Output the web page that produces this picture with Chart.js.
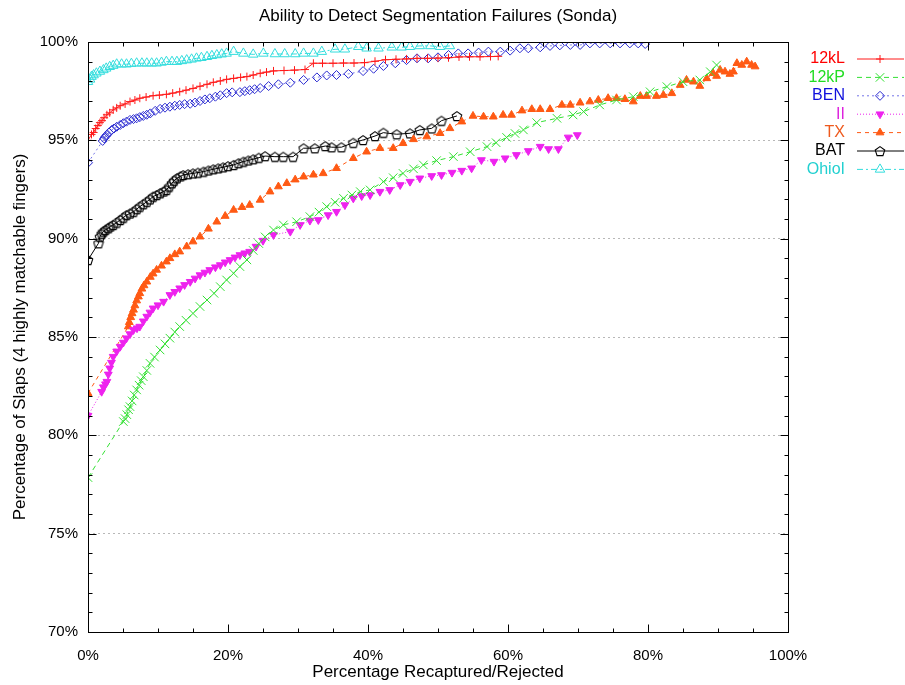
<!DOCTYPE html>
<html>
<head>
<meta charset="utf-8">
<title>Ability to Detect Segmentation Failures (Sonda)</title>
<script src="https://cdn.jsdelivr.net/npm/chart.js@4.4.1/dist/chart.umd.min.js"></script>
<style>
  body { margin: 0; background: #fff; }
  #wrap { width: 905px; height: 685px; }
</style>
</head>
<body>
<div id="wrap"><canvas id="segfail"></canvas></div>
<script>
// each point: [percentage recaptured/rejected, percentage of slaps]
var seriesNames = ["12kL", "12kP", "BEN", "II", "TX", "BAT", "OhioI"];

var kL = [[0,95.0],[0.5,95.3],[0.8,95.4],[1.1,95.6],[1.4,95.75],[1.7,95.9],[2.0,96.0],[2.3,96.15],[2.7,96.3],[3.1,96.4],
  [3.6,96.55],[4.1,96.65],[4.6,96.76],[5.3,96.85],[6.0,96.97],[6.7,97.05],[7.4,97.14],[8.3,97.2],[9.3,97.27],[10.2,97.3],
  [11.2,97.34],[12.1,97.4],[13.1,97.47],[14.0,97.55],[15.0,97.64],[16.0,97.75],[17.0,97.85],[17.9,97.95],[18.9,98.02],[19.8,98.1],
  [20.8,98.15],[21.8,98.2],[22.7,98.24],[23.6,98.32],[24.6,98.41],[25.5,98.47],[26.5,98.53],[28.0,98.55],[29.5,98.57],[31.0,98.6],
  [32.2,98.92],[33.5,98.92],[35.0,98.92],[36.5,98.93],[38.0,98.93],[39.5,98.95],[41.0,99.02],[42.5,99.1],[44.0,99.12],[45.5,99.14],
  [47.0,99.17],[48.5,99.17],[50.0,99.18],[51.5,99.2],[53.0,99.24],[54.5,99.25],[56.0,99.25],[57.5,99.26],[58.6,99.27]];

var kP = [[0,77.85],[5.05,80.7],[5.3,80.85],[5.55,81.05],[5.8,81.3],[6.0,81.46],[6.3,81.75],[6.6,82.05],[6.95,82.31],[7.3,82.55],
  [7.6,82.78],[7.9,82.98],[8.4,83.3],[8.86,83.66],[9.5,83.98],[10.3,84.34],[11.0,84.65],[11.7,84.94],[12.4,85.25],[13.1,85.53],
  [14.0,85.85],[15.0,86.2],[16.0,86.55],[17.0,86.88],[18.0,87.22],[18.9,87.56],[19.8,87.9],[20.8,88.24],[21.7,88.58],[22.7,88.92],
  [23.6,89.4],[24.4,89.75],[25.3,90.09],[26.5,90.44],[27.9,90.7],[29.8,90.86],[31.7,91.12],[33.0,91.35],[34.1,91.63],[35.3,91.85],
  [36.5,92.05],[37.7,92.22],[38.9,92.39],[40.3,92.48],[42.2,92.9],[43.6,93.1],[45.0,93.32],[46.5,93.55],[47.9,93.75],[49.8,93.97],
  [52.2,94.17],[54.6,94.42],[57.0,94.68],[58.3,94.88],[59.8,95.15],[61.0,95.35],[62.2,95.53],[64.1,95.9],[67.0,96.12],[69.3,96.29],
  [70.8,96.46],[73.1,96.8],[75.5,97.05],[77.9,97.22],[80.3,97.47],[82.7,97.73],[85.0,97.98],[87.4,98.07],[88.9,98.49],[89.8,98.83]];

var ben = [[0,93.86],[2.1,94.97],[2.3,95.1],[2.5,95.2],[2.7,95.27],[3.0,95.4],[3.4,95.53],[3.7,95.6],[4.1,95.69],[4.6,95.78],
  [5.05,95.87],[5.5,95.95],[6.0,96.04],[6.5,96.08],[6.95,96.12],[7.4,96.18],[7.9,96.24],[8.4,96.3],[8.9,96.37],[9.6,96.5],
  [10.3,96.6],[11.0,96.66],[11.7,96.71],[12.4,96.76],[13.1,96.8],[13.8,96.84],[14.6,96.86],[15.3,96.92],[16.0,97.0],[16.7,97.08],
  [17.4,97.14],[18.2,97.22],[18.9,97.29],[19.8,97.4],[20.6,97.44],[21.7,97.45],[22.4,97.5],[23.1,97.55],[23.8,97.6],[24.6,97.66],
  [25.8,97.76],[27.2,97.85],[28.9,97.93],[30.8,98.07],[32.7,98.2],[34.1,98.3],[35.5,98.32],[37.2,98.38],[39.3,98.52],[40.8,98.64],
  [42.2,98.78],[43.9,98.92],[45.5,99.08],[47.0,99.17],[48.6,99.17],[50.0,99.22],[51.5,99.34],[52.9,99.42],[54.3,99.42],[55.8,99.46],
  [57.2,99.51],[58.9,99.51],[60.3,99.56],[61.7,99.68],[62.9,99.68],[64.6,99.73],[66.0,99.8],[67.4,99.83],[68.9,99.85],[70.3,99.85],
  [71.7,99.93],[73.1,99.93],[74.6,99.93],[76.0,99.93],[77.4,99.93],[78.6,99.93],[79.6,99.9]];

var ii = [[0,81.0],[1.95,82.22],[2.2,82.45],[2.5,82.6],[2.7,82.73],[2.9,83.1],[3.1,83.41],[3.35,83.7],[3.6,84.0],[4.1,84.27],
  [4.6,84.51],[5.05,84.72],[5.5,84.94],[6.0,85.15],[6.5,85.36],[7.0,85.45],[7.4,85.53],[7.9,85.8],[8.4,86.04],[8.85,86.25],
  [9.3,86.46],[10.0,86.62],[10.8,86.8],[11.7,87.14],[12.4,87.3],[13.1,87.48],[13.8,87.65],[14.6,87.81],[15.3,87.98],[16.0,88.15],
  [16.7,88.28],[17.4,88.41],[18.2,88.55],[18.9,88.66],[19.6,88.8],[20.3,88.92],[21.0,89.05],[21.7,89.17],[22.4,89.26],[23.1,89.34],
  [24.0,89.6],[25.0,89.9],[26.5,90.19],[28.9,90.36],[30.3,90.7],[31.7,90.92],[32.9,90.95],[34.3,91.2],[35.5,91.37],[36.7,91.71],
  [37.9,92.05],[39.1,92.17],[40.3,92.22],[41.7,92.39],[43.1,92.48],[44.6,92.73],[46.0,92.9],[47.4,93.07],[49.1,93.19],[50.5,93.24],
  [52.0,93.36],[53.4,93.46],[54.8,93.58],[56.2,94.0],[58.0,93.92],[59.6,94.09],[61.2,94.26],[62.9,94.46],[64.6,94.68],[65.8,94.56],
  [67.2,94.56],[68.6,95.15],[69.9,95.27]];

var tx = [[0,82.14],[5.76,85.53],[5.9,85.75],[6.1,86.0],[6.3,86.2],[6.5,86.38],[6.7,86.6],[6.95,86.85],[7.2,87.05],[7.4,87.22],
  [7.7,87.45],[8.0,87.62],[8.4,87.81],[8.9,88.05],[9.3,88.22],[9.8,88.41],[10.5,88.62],[11.2,88.83],[11.7,89.0],[12.4,89.2],
  [13.1,89.34],[14.1,89.6],[15.0,89.85],[16.0,90.1],[17.2,90.5],[18.4,90.86],[19.6,91.15],[20.8,91.46],[22.0,91.6],[23.1,91.71],
  [24.6,91.97],[26.0,92.39],[27.2,92.65],[28.4,92.82],[29.6,93.0],[30.8,93.15],[32.2,93.25],[33.6,93.32],[35.5,93.58],[37.9,94.09],
  [39.8,94.42],[41.7,94.6],[43.6,94.6],[45.0,94.85],[46.5,95.05],[48.4,95.19],[50.3,95.36],[51.7,95.61],[53.4,95.95],[55.0,96.24],
  [56.5,96.2],[57.9,96.2],[59.3,96.29],[60.5,96.29],[62.0,96.51],[63.4,96.58],[64.6,96.58],[66.0,96.58],[67.7,96.8],[68.9,96.8],
  [70.3,96.91],[71.7,96.97],[72.9,97.05],[74.3,97.14],[75.5,97.14],[76.7,97.09],[77.9,96.97],[78.9,97.25],[79.8,97.25],[81.2,97.25],
  [82.2,97.3],[83.4,97.39],[84.6,97.81],[85.5,98.07],[86.5,97.98],[87.4,97.76],[88.4,98.15],[89.3,98.41],[89.8,98.27],[90.3,98.58],
  [91.0,98.49],[91.7,98.37],[92.2,98.49],[92.7,98.92],[93.4,98.83],[94.1,99.0],[94.8,98.83],[95.3,98.75]];

var bat = [[0,88.92],[1.5,89.77],[1.7,90.1],[1.95,90.25],[2.2,90.36],[2.5,90.45],[2.9,90.53],[3.2,90.62],[3.6,90.7],[4.1,90.82],
  [4.6,90.95],[5.05,91.07],[5.5,91.2],[6.0,91.28],[6.5,91.37],[6.95,91.5],[7.4,91.63],[7.9,91.75],[8.4,91.88],[8.85,92.0],
  [9.3,92.14],[9.8,92.22],[10.3,92.31],[10.8,92.4],[11.2,92.48],[11.6,92.65],[12.0,92.82],[12.3,92.95],[12.7,93.07],[13.2,93.17],
  [13.6,93.24],[14.3,93.28],[15.0,93.32],[15.7,93.36],[16.5,93.41],[17.2,93.47],[17.9,93.53],[18.6,93.58],[19.3,93.63],[20.0,93.69],
  [20.8,93.75],[21.5,93.84],[22.2,93.92],[22.9,93.98],[23.6,94.04],[24.4,94.12],[25.3,94.2],[26.7,94.17],[27.9,94.17],[29.3,94.17],
  [30.8,94.6],[32.4,94.6],[33.9,94.71],[34.8,94.65],[36.2,94.65],[37.9,94.88],[39.3,95.02],[41.0,95.22],[42.2,95.39],[44.1,95.31],
  [46.0,95.36],[47.4,95.53],[49.1,95.61],[50.5,96.0],[52.7,96.24]];

var ohio = [[0,97.98],[0.3,98.1],[0.5,98.24],[0.8,98.32],[1.2,98.41],[1.7,98.5],[2.2,98.58],[2.6,98.66],[3.1,98.74],[3.6,98.8],
  [4.1,98.87],[4.8,98.87],[5.5,98.87],[6.2,98.9],[6.95,98.92],[7.7,98.92],[8.4,98.92],[9.1,98.92],[9.8,98.92],[10.5,98.96],
  [11.2,99.0],[12.0,99.0],[12.7,99.0],[13.4,99.04],[14.1,99.08],[14.8,99.12],[15.5,99.17],[16.2,99.2],[17.0,99.25],[17.7,99.3],
  [18.4,99.34],[19.1,99.38],[19.8,99.42],[20.8,99.51],[22.2,99.42],[23.6,99.37],[25.05,99.42],[26.7,99.39],[28.1,99.39],[29.6,99.39],
  [30.8,99.42],[32.2,99.42],[33.4,99.51],[35.3,99.63],[36.7,99.63],[38.6,99.76],[39.8,99.68],[41.5,99.68],[43.4,99.73],[44.8,99.73],
  [46.0,99.76],[47.4,99.8],[48.9,99.8],[50.3,99.76],[51.7,99.8]];

var xTicks = [0, 20, 40, 60, 80, 100];
var yTicks = [70, 75, 80, 85, 90, 95, 100];

var FONT = "'Liberation Sans', Arial, sans-serif";
Chart.defaults.font.family = FONT;
Chart.defaults.color = "#000";

function pts(list) {
  return list.map(function(p) { return { x: p[0], y: p[1] }; });
}

// gnuplot style open pentagon for BAT
function pentagon(size, color) {
  var cv = document.createElement("canvas");
  cv.width = size; cv.height = size;
  var g = cv.getContext("2d");
  var r = size / 2 - 1;
  g.beginPath();
  for (var k = 0; k < 5; k++) {
    var ang = -Math.PI / 2 + k * 2 * Math.PI / 5;
    var px = size / 2 + r * Math.cos(ang), py = size / 2 + 0.6 + r * Math.sin(ang);
    if (k) g.lineTo(px, py); else g.moveTo(px, py);
  }
  g.closePath();
  g.strokeStyle = color; g.lineWidth = 1.1; g.stroke();
  return cv;
}

function series(label, data, color, dash, style, radius, fill, extra) {
  var ds = {
    label: label,
    data: pts(data),
    borderColor: color,
    borderWidth: 1,
    borderDash: dash,
    pointStyle: style,
    pointRadius: radius,
    pointHoverRadius: radius,
    pointBorderColor: color,
    pointBackgroundColor: fill ? color : "rgba(0,0,0,0)",
    pointBorderWidth: 1,
    tension: 0,
    fill: false
  };
  for (var k in extra) ds[k] = extra[k];
  return ds;
}

var keyColors = ["#ff0000", "#22dd22", "#1010dd", "#dd22dd", "#ee5a1e", "#000000", "#22d0d0"];

var keyBox = {
  id: "keyBox",
  afterDraw: function(chart) {
    var c = chart.ctx, a = chart.chartArea;
    chart.data.datasets.forEach(function(ds, i) {
      var y = a.top + 17 + i * 18.4;
      c.save();
      c.font = "16px " + FONT;
      c.textAlign = "right";
      c.textBaseline = "middle";
      c.fillStyle = keyColors[i];
      c.fillText(ds.label, a.right + 57, y);
      c.strokeStyle = ds.borderColor;
      c.lineWidth = 1;
      c.setLineDash(ds.borderDash || []);
      c.beginPath();
      c.moveTo(a.right + 69, y);
      c.lineTo(a.right + 116, y);
      c.stroke();
      c.setLineDash([]);
      c.strokeStyle = ds.pointBorderColor;
      c.fillStyle = ds.pointBackgroundColor;
      c.lineWidth = 1;
      Chart.helpers.drawPoint(c, {
        pointStyle: ds.pointStyle,
        rotation: ds.pointRotation || 0,
        radius: ds.pointRadius,
        borderWidth: 1
      }, a.right + 92, y);
      c.restore();
    });
  }
};

var frame = {
  id: "frame",
  afterDatasetsDraw: function(chart) {
    var c = chart.ctx, a = chart.chartArea, sx = chart.scales.x, sy = chart.scales.y;
    var L = Math.round(a.left) + 0.5, R = Math.round(a.right) + 0.5;
    var T = Math.round(a.top) + 0.5, B = Math.round(a.bottom) + 0.5;
    c.save();
    c.strokeStyle = "#000";
    c.lineWidth = 1;
    c.setLineDash([]);
    c.beginPath();
    for (var v = 70; v <= 100; v++) {
      var y = Math.round(sy.getPixelForValue(v)) + 0.5;
      var len = v % 5 === 0 ? 8 : 4;
      c.moveTo(L, y); c.lineTo(L + len, y);
      c.moveTo(R, y); c.lineTo(R - len, y);
    }
    for (var u = 0; u <= 100; u += 5) {
      var x = Math.round(sx.getPixelForValue(u)) + 0.5;
      var tl = u % 20 === 0 ? 8 : 4;
      c.moveTo(x, B); c.lineTo(x, B - tl);
      c.moveTo(x, T); c.lineTo(x, T + tl);
    }
    c.stroke();
    c.strokeRect(L, T, R - L, B - T);
    c.restore();
  }
};

new Chart(document.getElementById("segfail"), {
  type: "line",
  data: {
    datasets: [
      series(seriesNames[0], kL, "#ff1a1a", [], "cross", 4, false),
      series(seriesNames[1], kP, "#33e033", [5, 4], "crossRot", 6, false),
      series(seriesNames[2], ben, "#7474e8", [2, 3], "rectRot", 4.5, false, { pointBorderColor: "#2a2ad0" }),
      series(seriesNames[3], ii, "#ee22ee", [1, 2], "triangle", 4.5, true, { pointRotation: 180 }),
      series(seriesNames[4], tx, "#ff5a14", [4, 4], "triangle", 4.5, true),
      series(seriesNames[5], bat, "#000000", [], pentagon(12, "#000"), 6, false),
      series(seriesNames[6], ohio, "#33dddd", [6, 3, 2, 3], "triangle", 5.5, false)
    ]
  },
  options: {
    responsive: true,
    maintainAspectRatio: false,
    animation: false,
    layout: { padding: { left: 0, right: 117, top: 0, bottom: 0 } },
    plugins: {
      legend: { display: false },
      tooltip: { enabled: false },
      title: {
        display: true,
        text: "Ability to Detect Segmentation Failures (Sonda)",
        fullSize: false,
        font: { size: 17, weight: "normal" },
        padding: { top: 6, bottom: 15.6 }
      }
    },
    scales: {
      x: {
        type: "linear",
        min: 0,
        max: 100,
        afterFit: function(s) { s.height = 53; },
        afterBuildTicks: function(s) { s.ticks = xTicks.map(function(v) { return { value: v }; }); },
        ticks: { font: { size: 15 }, padding: 7, maxRotation: 0, callback: function(v) { return v + "%"; } },
        grid: { display: false },
        border: { display: false },
        title: { display: true, text: "Percentage Recaptured/Rejected", font: { size: 17 }, padding: { top: 0, bottom: 2 } }
      },
      y: {
        type: "linear",
        min: 70,
        max: 100,
        afterFit: function(s) { s.width = 88; },
        afterBuildTicks: function(s) { s.ticks = yTicks.map(function(v) { return { value: v }; }); },
        ticks: { font: { size: 15 }, padding: 10, callback: function(v) { return v + "%"; } },
        grid: {
          drawTicks: false,
          color: function(ctx) {
            var v = ctx.tick && ctx.tick.value;
            return (v === 70 || v === 100) ? "rgba(0,0,0,0)" : "#b8b8b8";
          },
          lineWidth: 1
        },
        border: { display: false, dash: [2, 3] },
        title: { display: true, text: "Percentage of Slaps (4 highly matchable fingers)", font: { size: 17 }, padding: { top: 10, bottom: 0 } }
      }
    }
  },
  plugins: [frame, keyBox]
});
</script>
</body>
</html>
